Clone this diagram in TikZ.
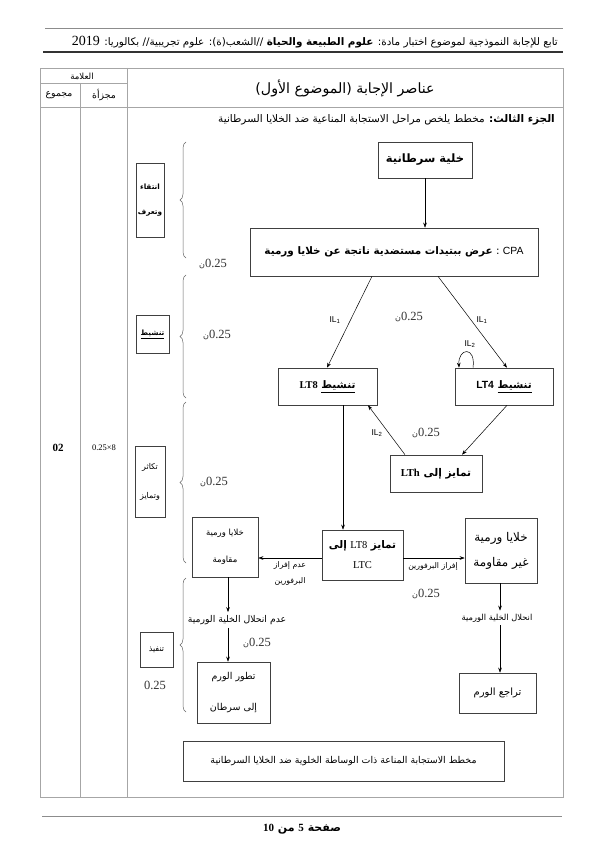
\documentclass[tikz,border=0pt]{standalone}
\usepackage{fontspec}
\setmainfont{Liberation Serif}
\newfontfamily\arf[Script=Arabic]{DejaVu Sans}
\newfontfamily\lsf{Liberation Sans}
\TeXXeTstate=1
\usetikzlibrary{arrows.meta,decorations.pathreplacing}
\newcommand\AR[1]{{\arf\beginR #1\endR}}
\newcommand\fsz[1]{\fontsize{#1}{#1}\selectfont}
\newcommand\pts{{\arf\fsz{8}ن}0.25}
\tikzset{
  bx/.style={draw=black!75, line width=0.6pt, inner sep=1pt, align=center},
  arr/.style={-{Stealth[length=5pt,width=3.6pt]}, line width=0.5pt},
  lbl/.style={inner sep=1pt, align=center},
  brc/.style={decorate, decoration={brace, amplitude=6pt}, draw=black!60, line width=0.5pt},
  tbl/.style={draw=black!35, line width=0.6pt},
  pt/.style={inner sep=0pt, text=black!80, font=\fsz{12.5}}
}
\begin{document}
\begin{tikzpicture}[x=1pt,y=-1pt]
\useasboundingbox (0,0) rectangle (600,848);
\fill[white] (0,0) rectangle (600,848);

% header
\draw[black!45, line width=0.5pt] (45,28) -- (563,28);
\node[anchor=east, inner sep=0pt] (hdr) at (558,42) {\fsz{10.4}\AR{تابع للإجابة النموذجية لموضوع اختبار مادة: \textbf{علوم الطبيعة والحياة} //الشعب(ة): علوم تجريبية// بكالوريا: {\rmfamily\fsz{14}2019}}};
\draw[black!80, line width=1.2pt] (43,52) -- (563,52);

% table
\draw[tbl] (40,68) rectangle (563,797);
\draw[tbl] (80,83) -- (80,797);
\draw[tbl] (127,68) -- (127,797);
\draw[tbl] (40,83) -- (127,83);
\draw[tbl] (40,107) -- (563,107);

\node[lbl] (alama) at (82,76) {\fsz{8.5}\AR{العلامة}};
\node[lbl] (mujazaa) at (104,95) {\fsz{9.3}\AR{مجزأة}};
\node[lbl] (majmou) at (59,95) {\fsz{9.3}\AR{مجموع}};
\node[lbl] (title) at (345,88) {\fsz{14.2}\AR{عناصر الإجابة (الموضوع الأول)}};
\node[anchor=east, inner sep=0pt] (part3) at (555,120) {\fsz{10.5}\AR{\textbf{الجزء الثالث:} مخطط يلخص مراحل الاستجابة المناعية ضد الخلايا السرطانية}};
\node[lbl] (tot) at (58,448) {\fsz{11}\textbf{02}};
\node[lbl] (par) at (104,448) {\fsz{8.5}0.25×8};

% footer
\draw[black!45, line width=0.5pt] (42,816) -- (562,816);
\node[lbl] (page) at (302,829) {\fsz{11}\bfseries\AR{صفحة {\rmfamily 5} من {\rmfamily 10}}};

% diagram boxes
\node[bx, minimum width=94, minimum height=36] (cancer) at (425,160) {\fsz{11.5}\AR{\textbf{خلية سرطانية}}};
\node[bx, minimum width=288, minimum height=48] (cpa) at (394,252) {\raisebox{3pt}{\fsz{10.4}\AR{{\lsf CPA} : \textbf{عرض ببتيدات مستضدية ناتجة عن خلايا ورمية}}}};
\node[bx, minimum width=99, minimum height=37] (lt8) at (327.5,386.5) {\fsz{10.4}\bfseries\AR{\underline{تنشيط} {\rmfamily LT8}}};
\node[bx, minimum width=98, minimum height=37] (lt4) at (504,386.5) {\fsz{10.4}\bfseries\AR{\underline{تنشيط} {\lsf LT4}}};
\node[bx, minimum width=92, minimum height=37] (lth) at (436,473.5) {\fsz{10.6}\bfseries\AR{تمايز إلى {\rmfamily LTh}}};
\node[bx, minimum width=81, minimum height=50] (ltc) at (362.5,555) {\fsz{10.5}\AR{\textbf{تمايز} {\rmfamily LT8} \textbf{إلى}}\\[8pt]{\fsz{10.5}LTC}};
\node[bx, minimum width=66, minimum height=60] (res) at (225,547) {\fsz{8.5}\AR{خلايا ورمية}\\[15pt]\fsz{8.5}\AR{مقاومة}};
\node[bx, minimum width=72, minimum height=65] (nonres) at (501,550.5) {\fsz{12}\AR{خلايا ورمية}\\[12pt]\fsz{12}\AR{غير مقاومة}};
\node[bx, minimum width=73, minimum height=61] (tumor) at (233.5,692.5) {\fsz{9.5}\AR{تطور الورم}\\[19pt]\fsz{9.5}\AR{إلى سرطان}};
\node[bx, minimum width=77, minimum height=40] (regr) at (497.5,693) {\fsz{10}\AR{تراجع الورم}};
\node[bx, minimum width=321, minimum height=40] (caption) at (343.5,761) {\fsz{9.4}\AR{مخطط الاستجابة المناعة ذات الوساطة الخلوية ضد الخلايا السرطانية}};

% left phase boxes
\node[bx, minimum width=28, minimum height=74] (ph1) at (150,200) {\fsz{7.3}\bfseries\AR{انتقاء}\\[13pt]\fsz{7.3}\bfseries\AR{وتعرف}};
\node[bx, minimum width=33, minimum height=38] (ph2) at (152.5,334) {\fsz{7.3}\bfseries\AR{\underline{تنشيط}}};
\node[bx, minimum width=30, minimum height=71] (ph3) at (150,482) {\fsz{8}\AR{تكاثر}\\[17pt]\fsz{8}\AR{وتمايز}};
\node[bx, minimum width=33, minimum height=35] (ph4) at (156.5,649.5) {\fsz{8}\AR{تنفيذ}};

% braces
\draw[brc] (186,258) -- (186,142);
\draw[brc] (186,398) -- (186,275);
\draw[brc] (186,563) -- (186,402);
\draw[brc] (186,712) -- (186,578);

% points labels
\node[pt] (p1) at (213,264) {\pts};
\node[pt] (p2) at (217,335) {\pts};
\node[pt] (p3) at (214,482) {\pts};
\node[pt] (p4) at (257,643) {\pts};
\node[pt] (p5) at (409,317) {\pts};
\node[pt] (p6) at (426,433) {\pts};
\node[pt] (p7) at (426,594) {\pts};
\node[pt] (p8) at (155,685) {0.25};

% other labels
\node[lbl] (il1a) at (335,320) {\lsf\fsz{8.5}IL\textsubscript{1}};
\node[lbl] (il1b) at (482,320) {\lsf\fsz{8.5}IL\textsubscript{1}};
\node[lbl] (il2a) at (470,344) {\lsf\fsz{8.5}IL\textsubscript{2}};
\node[lbl] (il2b) at (377,433) {\lsf\fsz{8.5}IL\textsubscript{2}};
\node[lbl] (noperf) at (290,573) {\fsz{7.8}\AR{عدم إفراز}\\[4pt]\fsz{7.8}\AR{البرفورين}};
\node[lbl] (perf) at (433,566) {\fsz{7.8}\AR{إفراز البرفورين}};
\node[lbl, inner sep=3pt] (nolysis) at (237,620) {\fsz{9.3}\AR{عدم انحلال الخلية الورمية}};
\node[lbl, inner sep=3pt] (lysis) at (497,618) {\fsz{8.3}\AR{انحلال الخلية الورمية}};

% connectors
\coordinate (xa) at (228,0);
\coordinate (xb) at (500,0);
\draw[arr] (cancer.south) -- (cancer.south |- cpa.north);
\draw[arr] ([xshift=-22]cpa.south) -- ([xshift=-0.5]lt8.north);
\draw[arr] ([xshift=44]cpa.south) -- ([xshift=3]lt4.north);
\draw[arr] ([xshift=-31]lt4.north) .. controls +(3,-22) and +(-1,-20) .. ([xshift=-45]lt4.north);
\draw[arr] ([xshift=3]lt4.south) -- ([xshift=26]lth.north);
\draw[arr] ([xshift=-31]lth.north) -- ([xshift=40.5]lt8.south);
\draw[arr] ([xshift=15.5]lt8.south) -- ([xshift=-19.5]ltc.north);
\draw[arr] ([yshift=-3]ltc.west) -- ([yshift=-3]ltc.west -| res.east);
\draw[arr] ([yshift=-3]ltc.east) -- ([yshift=-3]ltc.east -| nonres.west);
\draw[arr] (res.south -| xa) -- (nolysis.north -| xa);
\draw[arr] (nolysis.south -| xa) -- (tumor.north -| xa);
\draw[arr] (nonres.south -| xb) -- (lysis.north -| xb);
\draw[arr] (lysis.south -| xb) -- (regr.north -| xb);
\end{tikzpicture}
\end{document}
